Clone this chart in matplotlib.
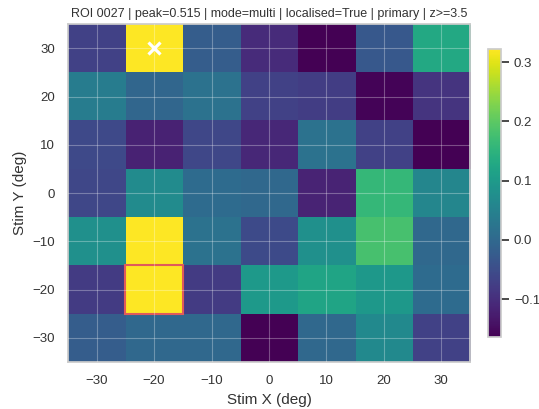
import numpy as np
import matplotlib
matplotlib.use("Agg")
import matplotlib.pyplot as plt
import seaborn as sns
from matplotlib.patches import Rectangle

sns.set_theme(style="whitegrid")
plt.rcParams['font.family'] = ['Liberation Sans', 'DejaVu Sans']

# stimulus grid (deg)
xs = [-30, -20, -10, 0, 10, 20, 30]
ys = [30, 20, 10, 0, -10, -20, -30]

# response map, rows from top (y=30) to bottom (y=-30)
resp = np.array([
    [-0.070, 0.322, -0.020, -0.105, -0.164, -0.030, 0.130],
    [0.040, -0.003, 0.020, -0.070, -0.075, -0.160, -0.090],
    [-0.057, -0.117, -0.060, -0.110, 0.020, -0.070, -0.164],
    [-0.060, 0.070, 0.005, 0.000, -0.115, 0.160, 0.060],
    [0.080, 0.322, 0.020, -0.055, 0.080, 0.180, 0.000],
    [-0.080, 0.322, -0.080, 0.097, 0.120, 0.095, 0.005],
    [-0.020, 0.000, 0.000, -0.164, 0.000, 0.067, -0.070],
])

peak_xy = (-20, 30)
box_xy = (-20, -20)
title = "ROI 0027 | peak=0.515 | mode=multi | localised=True | primary | z>=3.5"

fig = plt.figure(figsize=(5.39, 4.09), dpi=100)
ax = fig.add_axes([0.126, 0.115, 0.746, 0.826])
cax = fig.add_axes([0.905, 0.176, 0.024, 0.704])

im = ax.imshow(resp, cmap="viridis", aspect="auto",
               extent=[-35, 35, -35, 35], origin="upper",
               vmin=resp.min(), vmax=resp.max())
ax.set_xticks(xs)
ax.set_yticks(ys)
ax.set_axisbelow(False)
ax.grid(True, color="white", alpha=0.3, linewidth=0.8)
ax.tick_params(labelsize=9.5, colors="#333333")
for s in ax.spines.values():
    s.set_color("#cccccc")

# peak marker and highlighted cell
ax.plot(peak_xy[0], peak_xy[1], marker="x", color="white",
        markersize=9, markeredgewidth=2.3)
ax.add_patch(Rectangle((box_xy[0] - 5, box_xy[1] - 5), 10, 10,
                       fill=False, edgecolor="#e05a5a", linewidth=1.5))

ax.set_xlabel("Stim X (deg)", fontsize=11, color="#333333")
ax.set_ylabel("Stim Y (deg)", fontsize=11, color="#333333")
ax.set_title(title, fontsize=9, color="#333333", pad=5)

cb = fig.colorbar(im, cax=cax)
cb.set_ticks([-0.1, 0.0, 0.1, 0.2, 0.3])
cb.ax.tick_params(labelsize=9.5, colors="#333333")
cb.outline.set_edgecolor("#cccccc")

fig.savefig("out.png", dpi=100)
